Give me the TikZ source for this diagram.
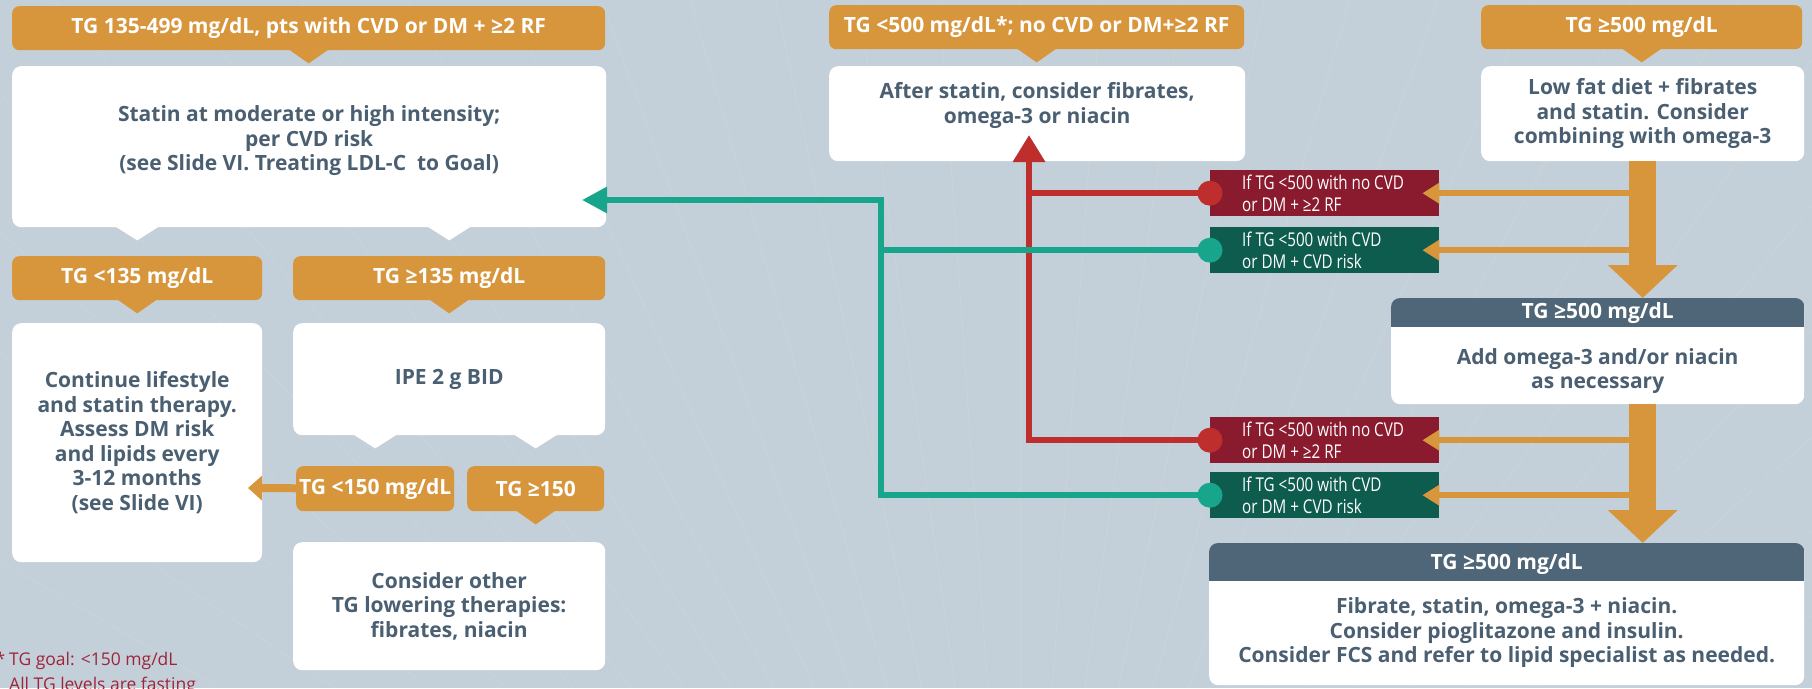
\documentclass[tikz,border=0pt]{standalone}
\usepackage{fontspec}
\setmainfont{Open Sans}
\newfontfamily\condfont[FakeStretch=0.8]{Open Sans}
\usetikzlibrary{arrows.meta,calc}

\definecolor{tgorange}{RGB}{216,150,60}
\definecolor{tgslate}{RGB}{79,102,120}
\definecolor{tgtext}{RGB}{74,95,113}
\definecolor{tgback}{RGB}{196,208,217}
\definecolor{tgwine}{RGB}{138,27,47}
\definecolor{tgpine}{RGB}{14,92,78}
\definecolor{tgred}{RGB}{190,46,44}
\definecolor{tgteal}{RGB}{23,166,140}
\definecolor{tgnote}{RGB}{158,36,58}

\tikzset{
  sz/.style 2 args={minimum width=#1pt, minimum height=#2pt},
  hdr/.style={fill=tgorange, text=white, rounded corners=7pt, inner sep=0pt, anchor=north west,
    font=\fontsize{21}{25}\selectfont\bfseries},
  hdrtxt/.style={text=white, inner sep=0pt, font=\fontsize{21}{25}\selectfont\bfseries},
  body/.style={fill=white, text=tgtext, rounded corners=9pt, inner sep=0pt, anchor=north west,
    align=center, font=\fontsize{21}{24.5}\selectfont\bfseries},
  bodytxt/.style={text=tgtext, inner sep=0pt, align=center, font=\fontsize{21}{24.5}\selectfont\bfseries},
  tag/.style={inner sep=0pt, anchor=north west, sz={229}{46}},
  tagtxt/.style={text=white, inner sep=0pt, anchor=west, align=left, font=\condfont\fontsize{19}{21.5}\selectfont},
  dot/.style={circle, inner sep=0pt, minimum size=25pt},
  redline/.style={draw=tgred, line width=6.5pt, -{Triangle[width=31pt,length=27pt]}},
  tealline/.style={draw=tgteal, line width=6pt, -{Triangle[width=25pt,length=25pt]}},
  shaft/.style={draw=tgorange, line width=27pt, -{Triangle[width=68pt,length=33pt]}},
  branch/.style={draw=tgorange, line width=6pt, -{Triangle[width=20pt,length=17pt]}},
  note/.style={text=tgnote, inner sep=0pt, anchor=north west, align=left, font=\fontsize{17.5}{25}\selectfont}
}

\begin{document}
\begin{tikzpicture}[x=1pt, y=-1pt]
\fill[tgback] (0,0) rectangle (1812,688);
\useasboundingbox (0,0) rectangle (1812,688);
\foreach \a in {194,198,...,346}
  \draw[white, opacity=0.1, line width=0.6pt] (1020,1150) -- ++(\a:1900);

\node[hdr, sz={593}{44}] (hA) at (12,6) {TG 135-499 mg/dL, pts with CVD or DM + ≥2 RF};
\node[body, sz={594}{161}] (bA) at (12,66) {};
\node[bodytxt] (tA) at ([yshift=6pt]bA.center) {Statin at moderate or high intensity;\\per CVD risk\\(see Slide VI. Treating LDL-C\ \ to Goal)};
\node[hdr, sz={250}{44}] (hB) at (12,256) {TG <135 mg/dL};
\node[hdr, sz={312}{44}] (hC) at (293,256) {TG ≥135 mg/dL};
\node[body, sz={250}{239}] (bB) at (12,323) {Continue lifestyle\\and statin therapy.\\Assess DM risk\\and lipids every\\3-12 months\\(see Slide VI)};
\node[body, sz={312}{112}] (bC) at (293,323) {IPE 2 g BID};
\node[hdr, sz={158}{45}] (hD) at (296,466) {TG <150 mg/dL};
\node[hdr, sz={137}{45}] (hE) at (467,466) {TG ≥150};
\node[body, sz={312}{128}] (bD) at (293,542) {Consider other\\TG lowering therapies:\\fibrates, niacin};

\node[hdr, sz={415}{44}] (hF) at (829,5) {TG <500 mg/dL*; no CVD or DM+≥2 RF};
\node[body, sz={416}{95}] (bF) at (829,66) {};
\node[bodytxt] (tF) at ([yshift=8pt]bF.center) {After statin, consider fibrates,\\omega-3 or niacin};
\node[hdr, sz={321}{44}] (hG) at (1481,5) {TG ≥500 mg/dL};
\node[body, sz={323}{95}] (bG) at (1481,66) {Low fat diet + fibrates\\and statin. Consider\\combining with omega-3};

\node[body, sz={413}{106}] (bH) at (1391,298) {};
\node[body, sz={595}{142}] (bI) at (1209,543) {};
\begin{scope}
  \clip[rounded corners=9pt] (bH.north west) rectangle (bH.south east);
  \fill[tgslate] (bH.north west) rectangle ([yshift=-29pt]bH.north east);
\end{scope}
\begin{scope}
  \clip[rounded corners=9pt] (bI.north west) rectangle (bI.south east);
  \fill[tgslate] (bI.north west) rectangle ([yshift=-38pt]bI.north east);
\end{scope}
\node[hdrtxt] (hH) at ($(bH.north)+(0,15)$) {TG ≥500 mg/dL};
\node[bodytxt] (tH) at ($(bH.north)+(0,73)$) {Add omega-3 and/or niacin\\as necessary};
\node[hdrtxt] (hI) at ($(bI.north)+(0,21)$) {TG ≥500 mg/dL};
\node[bodytxt] (tI) at ($(bI.north)+(0,90)$) {Fibrate, statin, omega-3 + niacin.\\Consider pioglitazone and insulin.\\Consider FCS and refer to lipid specialist as needed.};

\foreach \n in {hA,hB,hC,hE,hF,hG}
  \fill[tgorange] (\n.south) ++(-20,-1) -- ++(40,0) -- ++(-20,14) -- cycle;
\foreach \a/\b in {bA/hB,bA/hC,bC/hD,bC/hE}
  \fill[white] (\b |- \a.south) ++(-22,-1) -- ++(44,0) -- ++(-22,14) -- cycle;

\foreach \n/\y/\c in {r1/170/tgwine, g1/227/tgpine, r2/417/tgwine, g2/472/tgpine}
  \node[tag, fill=\c] (l\n) at (1210,\y) {};
\foreach \n in {r1,r2}
  \node[tagtxt] (t\n) at ([xshift=32pt]l\n.west) {If TG <500 with no CVD\\or DM + ≥2 RF};
\foreach \n in {g1,g2}
  \node[tagtxt] (t\n) at ([xshift=32pt]l\n.west) {If TG <500 with CVD\\or DM + CVD risk};

\draw[shaft] (bG.south) -- (bG.south |- bH.north);
\draw[shaft] (bG.south |- bH.south) -- (bG.south |- bI.north);
\foreach \n in {r1,g1,r2,g2}
  \draw[branch] (bG.south |- l\n.east) -- ([xshift=-17pt]l\n.east);

\coordinate (ltip) at (248,488);
\draw[branch, line width=8pt, -{Triangle[width=24pt,length=14pt]}] (hD) -- (ltip);

\coordinate (rtip) at (1029,135);
\coordinate (tbend) at (881,200);
\coordinate (ttip) at (582,200);
\draw[redline] (lr2.west) -| (rtip);
\draw[redline, -] (lr1.west) -- (lr1.west -| rtip);
\draw[tealline] (lg2.west) -| (tbend) -- (ttip);
\draw[tealline, -] (lg1.west) -- (lg1.west -| tbend);
\foreach \n/\c in {r1/tgred, g1/tgteal, r2/tgred, g2/tgteal}
  \node[dot, fill=\c] (c\n) at (l\n.west) {};

\node[note] (fn) at (9,652) {\llap{*\hspace{4pt}}TG goal: <150 mg/dL\\All TG levels are fasting};
\end{tikzpicture}
\end{document}
